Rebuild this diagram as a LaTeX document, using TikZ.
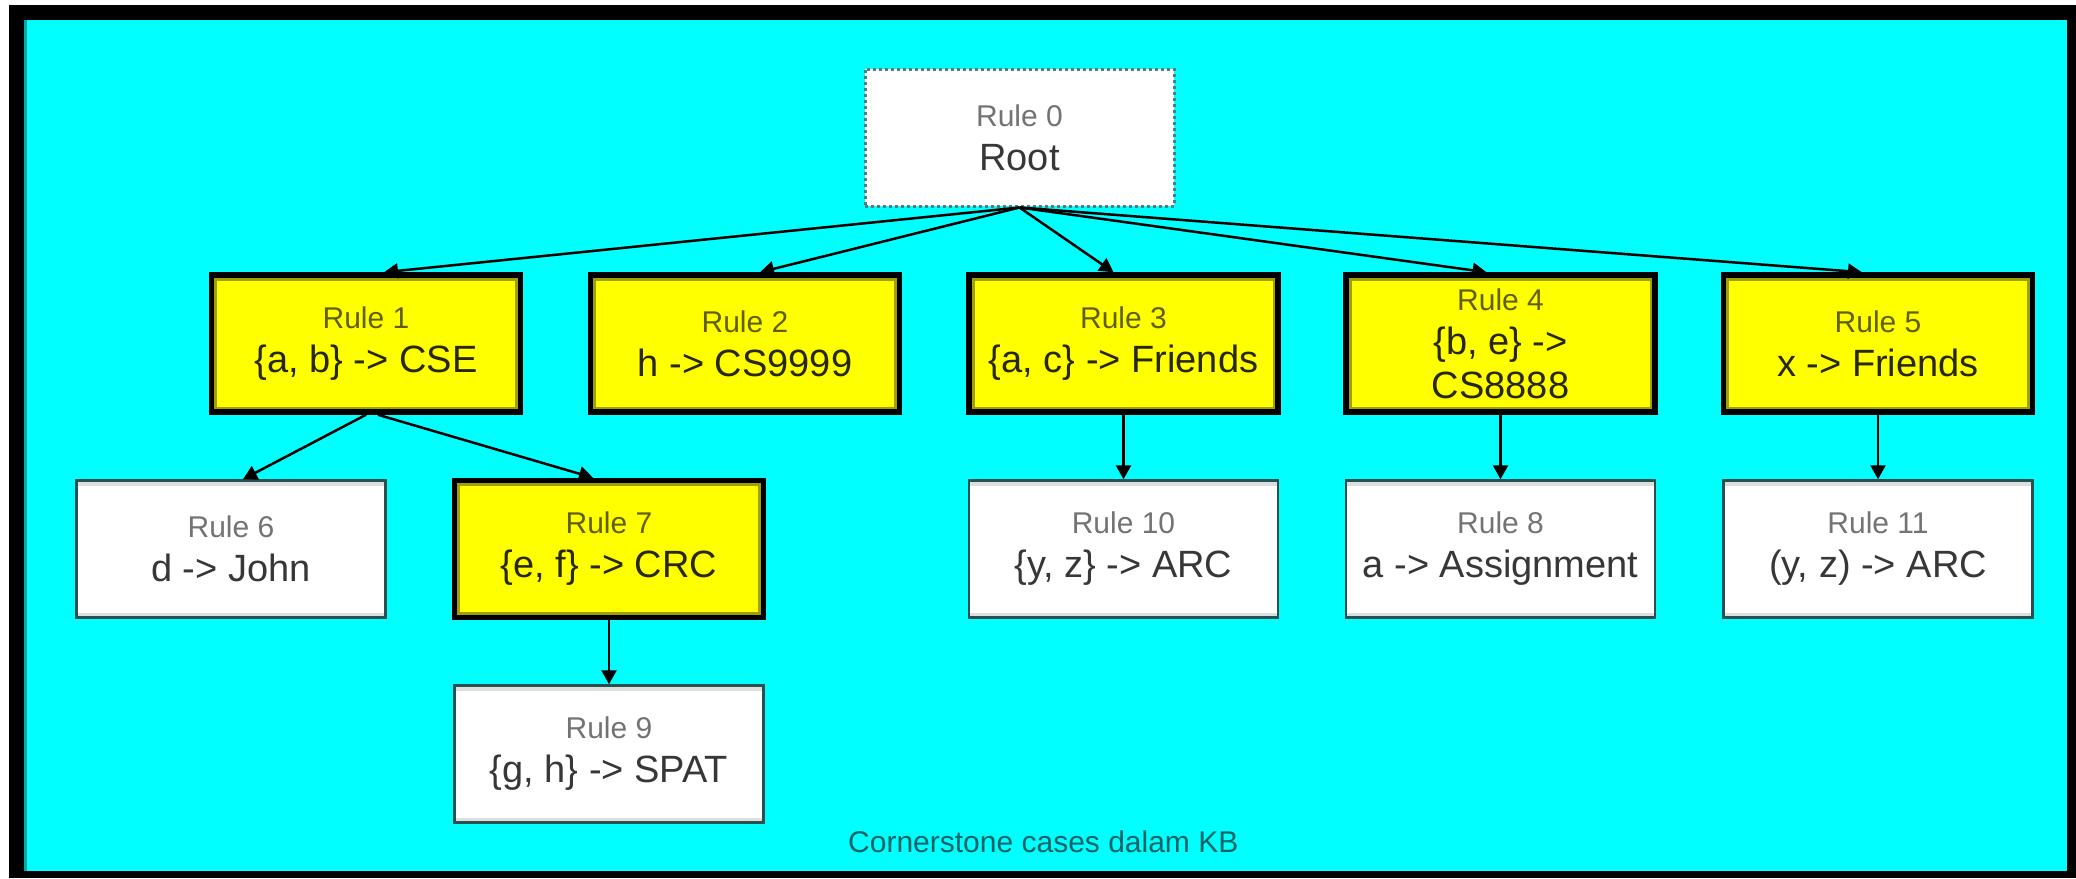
\documentclass[tikz,border=0pt]{standalone}
\usepackage{fontspec}
\setmainfont{Liberation Sans}
\usetikzlibrary{arrows.meta}

\definecolor{bgcyan}{RGB}{0,255,255}
\definecolor{edgecyan}{RGB}{0,170,170}
\definecolor{boxyellow}{RGB}{255,255,0}
\definecolor{innerolive}{RGB}{160,160,0}
\definecolor{frameteal}{RGB}{40,80,80}
\definecolor{rootdot}{RGB}{80,125,125}
\definecolor{capteal}{RGB}{0,100,100}
\definecolor{olivelbl}{RGB}{95,95,0}
\definecolor{olivetxt}{RGB}{40,40,0}
\definecolor{greylbl}{RGB}{115,115,115}
\definecolor{greytxt}{RGB}{55,55,55}
\definecolor{stripgrey}{RGB}{222,222,222}

% small "Rule n" heading inside a box
\newcommand\yrl[1]{{\color{olivelbl}\fontsize{30}{44}\selectfont Rule #1}}
\newcommand\wrl[1]{{\color{greylbl}\fontsize{30}{44}\selectfont Rule #1}}

\begin{document}
\begin{tikzpicture}[x=1pt,y=-1pt,
  rulebox/.style={rectangle, minimum width=309pt, minimum height=137pt,
    inner sep=0pt, align=center, font=\fontsize{38}{44}\selectfont},
  hitbox/.style={rulebox, fill=boxyellow, draw=black, line width=5.5pt, text=olivetxt,
    path picture={
      \draw[innerolive, line width=3pt]
        ([xshift=4pt,yshift=-4pt]path picture bounding box.north west) rectangle
        ([xshift=-4pt,yshift=4pt]path picture bounding box.south east);
    }},
  plainbox/.style={rulebox, fill=white, draw=frameteal, line width=2.5pt, text=greytxt,
    path picture={
      \fill[stripgrey] (path picture bounding box.north west) rectangle
        ([yshift=-5pt]path picture bounding box.north east);
      \fill[stripgrey] (path picture bounding box.south west) rectangle
        ([yshift=5pt]path picture bounding box.south east);
    }},
  rootbox/.style={rulebox, fill=white, draw=rootdot, line width=3pt,
    dash pattern=on 3pt off 3pt, text=greytxt},
  link/.style={draw=black, line width=2.5pt, -{Triangle[width=15pt,length=14pt]}}
]
\useasboundingbox (0,0) rectangle (2076,878);

% frame and background
\fill[white] (0,0) rectangle (2076,878);
\fill[black] (9,5) rectangle (2076,878);
\fill[bgcyan] (24,20) rectangle (2067,871);
\fill[edgecyan] (24,20) rectangle (27,871);

% root
\node[rootbox] (root) at (1019.5,137.5) {\wrl{0}\\Root};

% first level
\node[hitbox] (r1) at (366,343.5) {\yrl{1}\\\{a, b\} -> CSE};
\node[hitbox] (r2) at (745,343.5) {\yrl{2}\\h -> CS9999};
\node[hitbox] (r3) at (1123.5,343.5) {\yrl{3}\\\{a, c\} -> Friends};
\node[hitbox] (r4) at (1500.5,343.5) {\yrl{4}\\\{b, e\} ->\\CS8888};
\node[hitbox] (r5) at (1878,343.5) {\yrl{5}\\x -> Friends};

% second level
\node[plainbox] (r6) at (231,549) {\wrl{6}\\d -> John};
\node[hitbox] (r7) at (609,549) {\yrl{7}\\\{e, f\} -> CRC};
\node[plainbox] (r10) at (1123.5,549) {\wrl{10}\\\{y, z\} -> ARC};
\node[plainbox] (r8) at (1500.5,549) {\wrl{8}\\a -> Assignment};
\node[plainbox] (r11) at (1878,549) {\wrl{11}\\(y, z) -> ARC};

% third level
\node[plainbox] (r9) at (609,754) {\wrl{9}\\\{g, h\} -> SPAT};

% caption
\node[font=\fontsize{30}{36}\selectfont, text=capteal, anchor=base west, inner sep=0pt]
  (cap) at (848,852) {Cornerstone cases dalam KB};

% connectors
\draw[link] (root.south) -- ([xshift=18pt]r1.north);
\draw[link] (root.south) -- ([xshift=15pt]r2.north);
\draw[link] (root.south) -- ([xshift=-10pt]r3.north);
\draw[link] (root.south) -- ([xshift=-14pt]r4.north);
\draw[link] (root.south) -- ([xshift=-16pt]r5.north);
\draw[link] (r1.south) -- ([xshift=12pt]r6.north);
\draw[link] ([xshift=12pt]r1.south) -- ([xshift=-16pt]r7.north);
\draw[link] (r7.south) -- (r9.north);
\draw[link] (r3.south) -- (r10.north);
\draw[link] (r4.south) -- (r8.north);
\draw[link] (r5.south) -- (r11.north);
\end{tikzpicture}
\end{document}
